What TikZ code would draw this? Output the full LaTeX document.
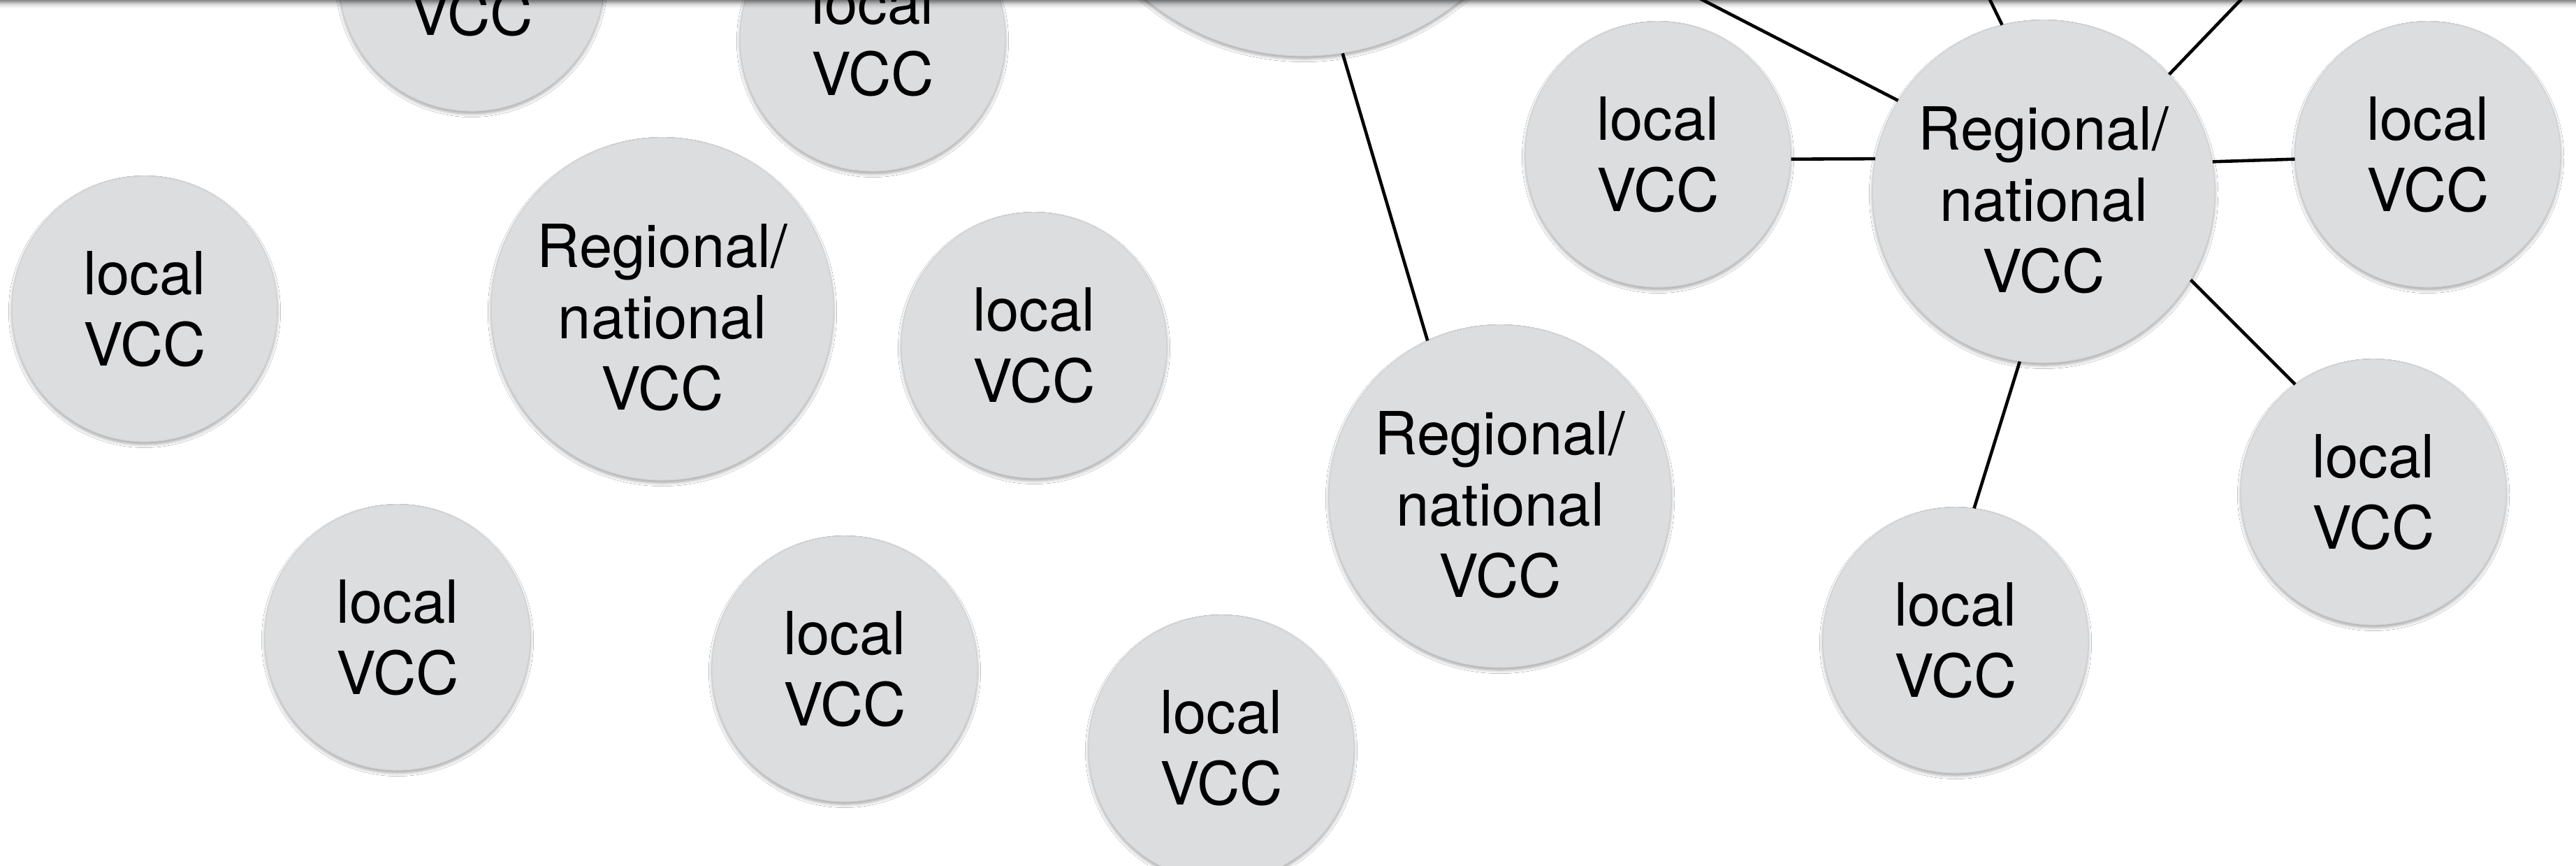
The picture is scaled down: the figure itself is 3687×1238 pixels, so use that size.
\documentclass[tikz,border=0pt]{standalone}
\usepackage{fontspec}
\setmainfont{TeX Gyre Heros}
\usetikzlibrary{shadows.blur}
\definecolor{bubble}{HTML}{DCDDDF}
\definecolor{bubbleedge}{HTML}{CDCED0}
\newcommand{\regtext}{\rule{0pt}{0.87cm}Regional/\\national\\VCC}
\tikzset{
  vcc/.style={circle, fill=bubble, draw=bubbleedge, line width=0.3pt, inner sep=0pt,
    align=center, font=\fontsize{24.2pt}{29pt}\selectfont,
    blur shadow={shadow xshift=0pt, shadow yshift=-1.1pt, shadow blur radius=1.3pt, shadow blur steps=6, shadow opacity=35}},
  localvcc/.style={vcc, minimum size=3.8cm},
  regvcc/.style={vcc, minimum size=4.9cm},
  bigvcc/.style={vcc, minimum size=7.1cm},
  link/.style={line width=1.3pt, black}
}
\begin{document}
\begin{tikzpicture}[x=0.01cm, y=-0.01cm]
\useasboundingbox (0,0) rectangle (3687,1238);
\fill[white] (0,0) rectangle (3687,1238);
\clip (0,0) rectangle (3687,1238);

% nodes
\node[localvcc] (locA) at (675,-31) {local\\VCC};
\node[localvcc] (locB) at (1249,55) {local\\VCC};
\node[bigvcc]   (big)  at (1866,-275) {};
\node[localvcc] (locL) at (207,442) {local\\VCC};
\node[regvcc]   (regA) at (948,442) {\regtext};
\node[localvcc] (locG) at (1480,494) {local\\VCC};
\node[localvcc] (locH) at (569,912) {local\\VCC};
\node[localvcc] (locI) at (1209,957) {local\\VCC};
\node[localvcc] (locJ) at (1748,1070) {local\\VCC};
\node[regvcc]   (regC) at (2147,710) {\regtext};
\node[localvcc] (locC) at (2373,221) {local\\VCC};
\node[regvcc]   (regB) at (2925,274) {\regtext};
\node[localvcc] (locD) at (3475,221) {local\\VCC};
\node[localvcc] (locE) at (3397,704) {local\\VCC};
\node[localvcc] (locF) at (2799,916) {local\\VCC};

% off-picture ends
\coordinate (offA) at (2340,-50);
\coordinate (offB) at (2824,-50);
\coordinate (offC) at (3255,-50);

% connectors
\draw[link] (big.-81.7) -- (regC.115.9);
\draw[link] (locC.-2.7) -- (regB.169.7);
\draw[link] (regB.10.3) -- (locD.182.7);
\draw[link] (regB.-31.8) -- (locE.126.4);
\draw[link] (regB.-98.8) -- (locF.82.1);
\draw[link] (regB.148.1) -- (offA);
\draw[link] (regB.104) -- (offB);
\draw[link] (regB.43.7) -- (offC);

% top edge shadow
\foreach \i/\o in {0/0.45,2/0.33,4/0.22,6/0.13,8/0.07,10/0.03}{
  \fill[black, opacity=\o] (0,\i) rectangle (3687,\i+2);
}
\end{tikzpicture}
\end{document}
